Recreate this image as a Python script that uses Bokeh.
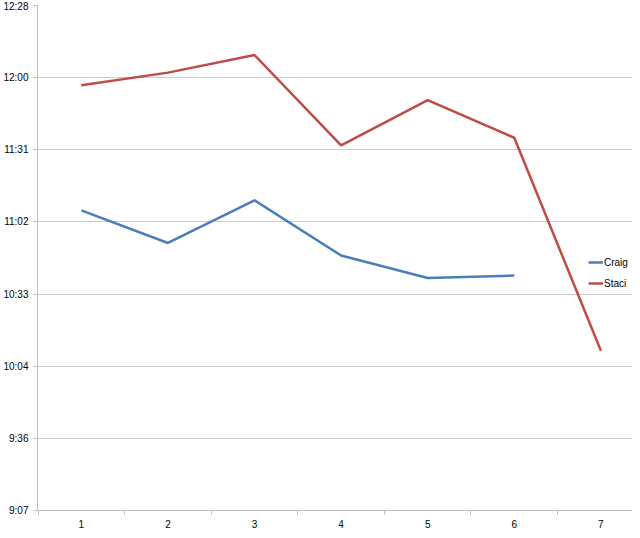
from bokeh.plotting import figure
from bokeh.models import Range1d, FixedTicker, Legend, LegendItem
from bokeh.embed import file_html
from bokeh.resources import INLINE

# data (values as shown on the chart, h:mm)
weeks = [1, 2, 3, 4, 5, 6, 7]
craig = ["11:07", "10:54", "11:11", "10:49", "10:40", "10:41"]
staci = ["11:57", "12:02", "12:09", "11:33", "11:51", "11:36", "10:11"]

# y axis ticks in seconds with their labels
y_ticks = [32832, 34560, 36288, 38016, 39744, 41472, 43200, 44928]
y_labels = ["9:07", "9:36", "10:04", "10:33", "11:02", "11:31", "12:00", "12:28"]


def to_seconds(t):
    h, m = t.split(":")
    return int(h) * 3600 + int(m) * 60


FONT = "Liberation Sans"
GRID = "#cccccc"
AXIS = "#bfbfbf"

p = figure(
    width=632,
    height=530,
    output_backend="svg",
    toolbar_location=None,
    x_range=Range1d(0.494, 7.365),
    y_range=Range1d(y_ticks[0], y_ticks[-1]),
    min_border_top=5,
    min_border_right=0,
    min_border_left=37,
)
p.outline_line_color = None
p.background_fill_color = "white"

r_craig = p.line(weeks[:len(craig)], [to_seconds(v) for v in craig],
                 line_color="#4a7ebb", line_width=2.5)
r_staci = p.line(weeks, [to_seconds(v) for v in staci],
                 line_color="#be4b48", line_width=2.5)

# y axis
p.yaxis.ticker = FixedTicker(ticks=y_ticks)
p.yaxis.major_label_overrides = dict(zip(y_ticks, y_labels))
p.yaxis.major_label_text_font = FONT
p.yaxis.major_label_text_font_size = "10px"
p.yaxis.major_label_text_color = "#000000"
p.yaxis.major_label_standoff = 5
p.yaxis.major_tick_out = 4
p.yaxis.major_tick_in = 0
p.yaxis.minor_tick_line_color = None
p.yaxis.axis_line_color = AXIS
p.yaxis.major_tick_line_color = AXIS

# x axis: labels at categories, ticks between them
p.xaxis.ticker = FixedTicker(ticks=weeks, minor_ticks=[w - 0.5 for w in weeks] + [7.5])
p.xaxis.major_label_text_font = FONT
p.xaxis.major_label_text_font_size = "10px"
p.xaxis.major_label_text_color = "#000000"
p.xaxis.major_label_standoff = 5
p.xaxis.major_tick_out = 0
p.xaxis.major_tick_in = 0
p.xaxis.minor_tick_out = 4
p.xaxis.minor_tick_in = 0
p.xaxis.minor_tick_line_color = AXIS
p.xaxis.axis_line_color = AXIS

p.xgrid.grid_line_color = None
p.ygrid.grid_line_color = GRID
p.ygrid.grid_line_width = 1

legend = Legend(
    items=[LegendItem(label="Craig", renderers=[r_craig]),
           LegendItem(label="Staci", renderers=[r_staci])],
    location=(551, 217),
    padding=0,
    margin=0,
    spacing=1,
    glyph_width=15,
    glyph_height=20,
    label_height=20,
    label_standoff=1,
    label_text_font=FONT,
    label_text_font_size="10px",
    label_text_color="#000000",
    border_line_color=None,
    background_fill_alpha=0,
)
p.add_layout(legend)

open("out.html", "w").write(file_html(p, INLINE))
